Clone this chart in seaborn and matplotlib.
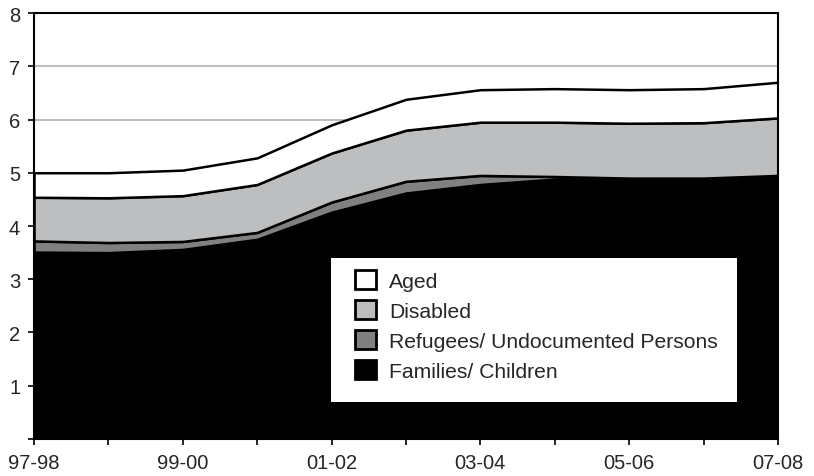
import matplotlib
matplotlib.use('Agg')
import matplotlib.pyplot as plt
from matplotlib.patches import Rectangle
import numpy as np
import pandas as pd
import seaborn as sns

# 年度
years = ['97-98', '98-99', '99-00', '00-01', '01-02', '02-03',
         '03-04', '04-05', '05-06', '06-07', '07-08']
# 各类别数值
families = [3.51, 3.50, 3.56, 3.75, 4.26, 4.62, 4.78, 4.88, 4.87, 4.87, 4.90]
refugees = [0.21, 0.19, 0.15, 0.13, 0.19, 0.22, 0.17, 0.05, 0.03, 0.03, 0.05]
disabled = [0.82, 0.84, 0.86, 0.90, 0.92, 0.96, 1.00, 1.02, 1.03, 1.04, 1.08]
aged = [0.46, 0.47, 0.48, 0.50, 0.53, 0.58, 0.61, 0.63, 0.63, 0.64, 0.67]

series_names = ['Families/ Children', 'Refugees/ Undocumented Persons', 'Disabled', 'Aged']
colors = ['#000000', '#808080', '#bdbebf', '#ffffff']

df = pd.DataFrame({'year': years,
                   series_names[0]: families,
                   series_names[1]: refugees,
                   series_names[2]: disabled,
                   series_names[3]: aged})

sns.set_theme(style='white')
plt.rcParams['font.family'] = ['Liberation Sans', 'DejaVu Sans']

fig = plt.figure(figsize=(8.14, 4.77), dpi=100)
ax = fig.add_axes([0.0418, 0.0776, 0.914, 0.893])

x = np.arange(len(years))
ax.stackplot(x, *[df[n] for n in series_names], labels=series_names,
             colors=colors, edgecolor='black', linewidth=1.8, zorder=2)

# 网格线
for yv in range(1, 8):
    ax.axhline(yv, color='#c0c0c0', linewidth=1.5, zorder=1)

ax.set_xlim(0, len(years) - 1)
ax.set_ylim(0, 8)
ax.set_xticks(x)
ax.set_xticklabels([y if i % 2 == 0 else '' for i, y in enumerate(years)], fontsize=14.5)
ax.set_yticks(range(0, 9))
ax.set_yticklabels([''] + [str(v) for v in range(1, 9)], fontsize=14.5)
ax.tick_params(axis='both', direction='out', length=4, width=1.2, color='black',
               bottom=True, left=True, pad=6)
for sp in ax.spines.values():
    sp.set_color('black')
    sp.set_linewidth(1.5)
    sp.set_zorder(5)

# 图例背景框
ax.add_patch(Rectangle((0.399, 0.087), 0.546, 0.338, transform=ax.transAxes,
                       facecolor='white', edgecolor='none', zorder=4))

handles, labels = ax.get_legend_handles_labels()
leg = ax.legend(handles[::-1], labels[::-1], loc='upper left',
                bbox_to_anchor=(0.4315, 0.397), frameon=False,
                fontsize=15.2, handlelength=1.0, handleheight=1.0,
                labelspacing=0.45, borderpad=0, borderaxespad=0,
                handletextpad=0.6)
leg.set_zorder(6)
for h in leg.legend_handles:
    h.set_edgecolor('black')
    h.set_linewidth(2)

fig.savefig('out.png', dpi=100)
